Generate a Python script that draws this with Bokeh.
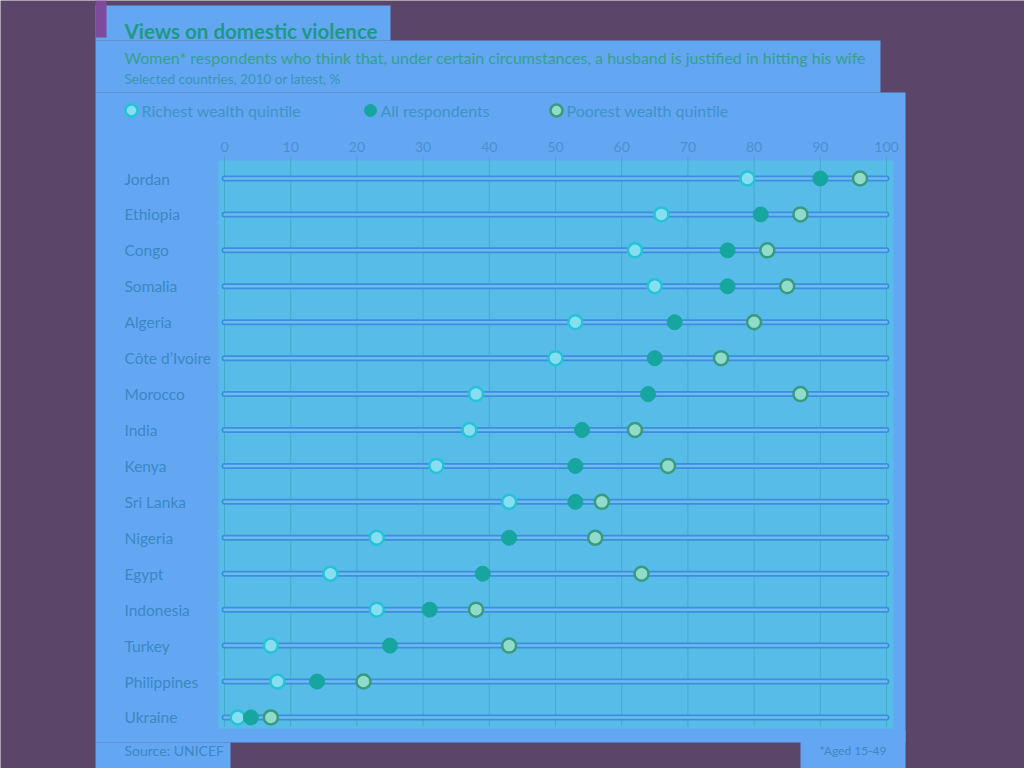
from bokeh.plotting import figure
from bokeh.models import LinearAxis, FixedTicker, BoxAnnotation, Label, ColumnDataSource
from bokeh.core.properties import value
from bokeh.embed import file_html
from bokeh.resources import INLINE

# ---------------- data ----------------
countries = ["Jordan", "Ethiopia", "Congo", "Somalia", "Algeria", "Côte d’Ivoire", "Morocco",
             "India", "Kenya", "Sri Lanka", "Nigeria", "Egypt", "Indonesia", "Turkey",
             "Philippines", "Ukraine"]
richest = [79, 66, 62, 65, 53, 50, 38, 37, 32, 43, 23, 16, 23, 7, 8, 2]
all_respondents = [90, 81, 76, 76, 68, 65, 64, 54, 53, 53, 43, 39, 31, 25, 14, 4]
poorest = [96, 87, 82, 85, 80, 75, 87, 62, 67, 57, 56, 63, 38, 43, 21, 7]
x_ticks = [0, 10, 20, 30, 40, 50, 60, 70, 80, 90, 100]
legend_labels = ["Richest wealth quintile", "All respondents", "Poorest wealth quintile"]

title_text = "Views on domestic violence"
subtitle_text = ("Women* respondents who think that, under certain circumstances, "
                 "a husband is justified in hitting his wife")
subsub_text = "Selected countries, 2010 or latest, %"
source_text = "Source: UNICEF"
note_text = "*Aged 15-49"

# ---------------- layout helpers (canvas px -> data) ----------------
W, H = 1024, 768
X0PX, XSCALE = 224.0, 6.62      # px of value 0, px per unit
Y0PX, YSCALE = 178.0, 35.93     # px of first row, px per row


def px_x(px):
    return (px - X0PX) / XSCALE


def px_y(py):
    return (py - Y0PX) / YSCALE


rows = list(range(len(countries)))

FONT = "Lato"
PURPLE = "#5b4569"
BLUE = "#63a7f2"
CYAN = "#57bde8"
TEXT = "#3a88c4"
TITLE = "#1f9886"

p = figure(width=W, height=H,
           x_range=(px_x(0), px_x(W)), y_range=(px_y(H), px_y(0)),
           min_border=0, toolbar_location=None, output_backend="svg",
           x_axis_location=None, y_axis_location=None,
           background_fill_color=PURPLE, border_fill_color=PURPLE,
           outline_line_color=None)
p.grid.visible = False

# background tone zones
zones = [
    (95, 905, 92, 742, BLUE),
    (95, 390, 5, 40, BLUE),
    (95, 880, 40, 92, BLUE),
    (95, 230, 742, 768, BLUE),
    (800, 905, 730, 768, BLUE),
    (218, 893, 160, 728, CYAN),
]
for l, r, t, b, c in zones:
    p.add_layout(BoxAnnotation(left=px_x(l), right=px_x(r), top=px_y(t), bottom=px_y(b),
                               fill_color=c, fill_alpha=1.0, line_color=None,
                               level="underlay"))

# tag
p.add_layout(BoxAnnotation(left=px_x(95), right=px_x(106), top=px_y(0), bottom=px_y(37),
                           fill_color="#7d4a9c", fill_alpha=1.0, line_color=None))

# top axis
ax = LinearAxis(ticker=FixedTicker(ticks=x_ticks), fixed_location=px_y(153),
                axis_line_color=None, major_tick_line_color=None,
                minor_tick_line_color=None, major_tick_out=0, major_tick_in=0,
                major_label_standoff=2, major_label_text_font=FONT,
                major_label_text_font_size="14px", major_label_text_color="#4a8fd0")
p.add_layout(ax, "above")

# vertical gridlines
p.segment(x0=x_ticks, x1=x_ticks, y0=[px_y(156)] * len(x_ticks), y1=[px_y(726)] * len(x_ticks),
          line_color="#3ea6c4", line_width=1, line_alpha=0.8)

# row tracks
n = len(rows)
p.segment(x0=[x_ticks[0]] * n, x1=[x_ticks[-1]] * n, y0=rows, y1=rows,
          line_color="#3d8ede", line_width=6, line_cap="round")
p.segment(x0=[x_ticks[0]] * n, x1=[x_ticks[-1]] * n, y0=rows, y1=rows,
          line_color="#6cbcef", line_width=2.5, line_cap="round")

src = ColumnDataSource(dict(country=countries, y=rows, richest=richest,
                            allr=all_respondents, poorest=poorest))

# dots
R_STYLE = dict(fill_color="#86def0", line_color="#25c3d6", line_width=2.5)
A_STYLE = dict(fill_color="#17a69f", line_color="#17a69f", line_width=1)
P_STYLE = dict(fill_color="#8fdccb", line_color="#3a9a80", line_width=2.5)
p.scatter(x="richest", y="y", source=src, size=14, **R_STYLE)
p.scatter(x="allr", y="y", source=src, size=15, **A_STYLE)
p.scatter(x="poorest", y="y", source=src, size=14, **P_STYLE)

# country labels
p.text(x=[px_x(124)] * n, y=rows, text=countries, text_font=value(FONT),
       text_font_size="15.5px", text_color=TEXT, text_baseline="middle", text_align="left")

# legend
leg_x = [px_x(131), px_x(370), px_x(556)]
leg_y = px_y(110)
for xx, st in zip(leg_x, [R_STYLE, A_STYLE, P_STYLE]):
    p.scatter(x=[xx], y=[leg_y], size=12, **st)
p.text(x=[xx + px_x(141) - px_x(131) for xx in leg_x], y=[leg_y] * 3, text=legend_labels,
       text_font=value(FONT), text_font_size="16px", text_color="#3d94c6",
       text_baseline="middle", text_align="left")

# titles
p.add_layout(Label(x=px_x(124), y=px_y(30), text=title_text, text_font=FONT,
                   text_font_size="20.5px", text_font_style="bold", text_color=TITLE,
                   text_baseline="middle", text_align="left"))
p.add_layout(Label(x=px_x(124), y=px_y(57), text=subtitle_text, text_font=FONT,
                   text_font_size="16px", text_color="#35a08c",
                   text_baseline="middle", text_align="left"))
p.add_layout(Label(x=px_x(124), y=px_y(78), text=subsub_text, text_font=FONT,
                   text_font_size="13.5px", text_color="#3a96b4",
                   text_baseline="middle", text_align="left"))
p.add_layout(Label(x=px_x(124), y=px_y(750), text=source_text, text_font=FONT,
                   text_font_size="14px", text_color=TEXT,
                   text_baseline="middle", text_align="left"))
p.add_layout(Label(x=x_ticks[-1], y=px_y(750), text=note_text, text_font=FONT,
                   text_font_size="12px", text_color=TEXT,
                   text_baseline="middle", text_align="right"))

open("out.html", "w").write(file_html(p, INLINE))
